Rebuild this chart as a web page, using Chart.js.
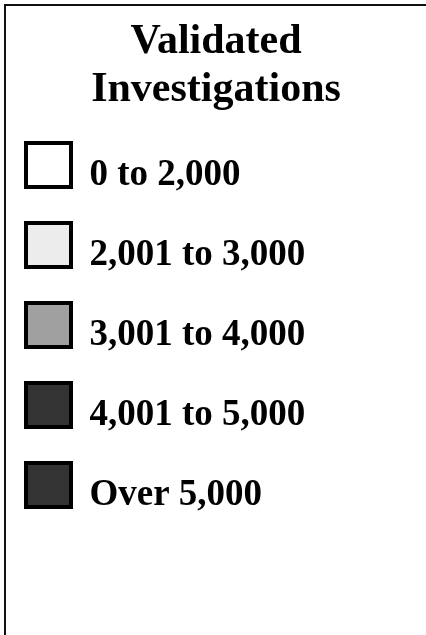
<!DOCTYPE html>
<html>
<head>
<meta charset="utf-8">
<script src="https://cdn.jsdelivr.net/npm/chart.js@4"></script>
<style>
  html, body { margin: 0; padding: 0; background: #fff; overflow: hidden; }
  body { width: 426px; height: 635px; position: relative; }
  #wrap { position: absolute; left: -10px; top: 0; width: 452px; height: 635px; }
  #frame {
    position: absolute; left: 4px; top: 4px; right: 0; bottom: 0;
    border-top: 2px solid #111; border-left: 2px solid #111;
    pointer-events: none;
  }
</style>
</head>
<body>
<div id="wrap"><canvas id="legendChart" width="452" height="635"></canvas></div>
<div id="frame"></div>
<script>
const titleLines = ["Validated", "Investigations"];
const ranges = ["0 to 2,000", "2,001 to 3,000", "3,001 to 4,000", "4,001 to 5,000", "Over 5,000"];
const shades = ["#ffffff", "#ececec", "#a0a0a0", "#333333", "#333333"];

const serif = "'Liberation Serif', 'Times New Roman', serif";

new Chart(document.getElementById("legendChart"), {
  type: "bar",
  data: {
    labels: [],
    datasets: ranges.map((r, i) => ({
      label: r,
      data: [],
      backgroundColor: shades[i],
      borderColor: "#000",
      borderWidth: 4
    }))
  },
  options: {
    responsive: false,
    animation: false,
    events: [],
    scales: {
      x: { display: false },
      y: { display: false }
    },
    plugins: {
      tooltip: { enabled: false },
      title: {
        display: true,
        text: titleLines,
        color: "#000",
        font: { family: serif, size: 42, weight: "bold", lineHeight: 48 / 42 },
        padding: { top: 18, bottom: -7 }
      },
      legend: {
        position: "top",
        align: "start",
        maxHeight: 500,
        labels: {
          color: "#000",
          boxWidth: 45,
          boxHeight: 44,
          padding: 36,
          font: { family: serif, size: 37, weight: "bold", lineHeight: 10 / 37 },
          generateLabels(chart) {
            const items = Chart.defaults.plugins.legend.labels.generateLabels(chart);
            // blank first line pushes the label down to sit on the swatch bottom
            items.forEach(it => { it.text = ["", it.text]; });
            return items;
          }
        }
      }
    }
  }
});
</script>
</body>
</html>
